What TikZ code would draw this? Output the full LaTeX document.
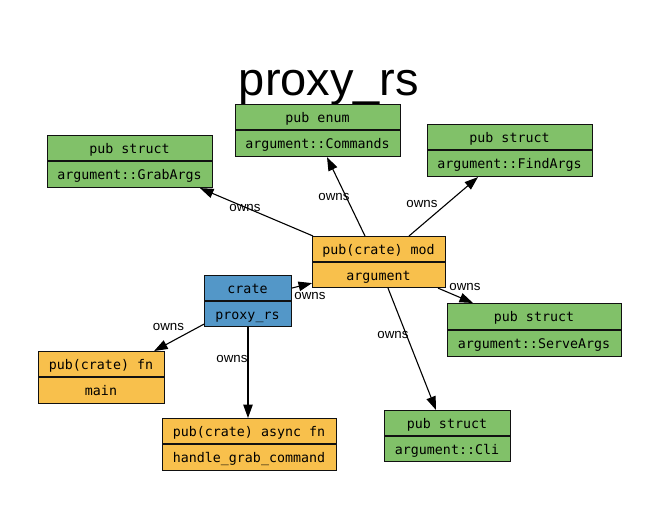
\documentclass[tikz,border=0pt]{standalone}
\usepackage{fontspec}
\setmainfont{Liberation Sans}
\newfontfamily\boxmono{DejaVu Sans Mono}
\usetikzlibrary{arrows.meta,calc}
\definecolor{pubgreen}{HTML}{81C169}
\definecolor{crateorange}{HTML}{F8C04C}
\definecolor{crateblue}{HTML}{5397C8}
\definecolor{edgegray}{HTML}{111111}
\tikzset{
  umlbox/.style={draw=edgegray, line width=1.1pt, inner sep=0pt},
  boxline/.style={draw=edgegray, line width=1.1pt},
  boxtext/.style={font=\boxmono\fontsize{13.3}{15}\selectfont, inner sep=0pt, text=black},
  ownsedge/.style={draw=black, line width=1.1pt, -{Triangle[length=13.5pt,width=9.5pt]}},
  ownslabel/.style={font=\fontsize{13.3}{15}\selectfont, inner sep=0pt, text=black},
}
\newcommand\umlbox[9]{%
  \node[umlbox, fill=#9, minimum width={(#4-#2)*1pt}, minimum height={(#5-#3)*1pt}, anchor=north west] (#1) at (#2,#3) {};
  \draw[boxline] (#2,#6) -- (#4,#6);
  \node[boxtext, anchor=base] (#1top) at ({(#2+#4)/2},{#3+18}) {#7};
  \node[boxtext, anchor=base] (#1bot) at ({(#2+#4)/2},{#6+18}) {#8};
}
\begin{document}
\begin{tikzpicture}[x=1pt,y=-1pt]
\fill[white] (0,0) rectangle (659,509);
\useasboundingbox (0,0) rectangle (659,509);
\node[font=\fontsize{47}{50}\selectfont, inner sep=0pt, anchor=base] (title) at (329,95) {proxy\_rs};
\umlbox{grab}{47}{135}{212}{187}{161}{pub struct}{argument::GrabArgs}{pubgreen}
\umlbox{cmd}{235}{104}{400}{156}{130}{pub enum}{argument::Commands}{pubgreen}
\umlbox{find}{427}{124}{592}{176}{150}{pub struct}{argument::FindArgs}{pubgreen}
\umlbox{mod}{312}{236}{445}{287}{262}{pub(crate) mod}{argument}{crateorange}
\umlbox{crate}{204}{275}{291}{326}{301}{crate}{proxy\_rs}{crateblue}
\umlbox{serve}{447}{303}{621}{356}{330}{pub struct}{argument::ServeArgs}{pubgreen}
\umlbox{cli}{384}{410}{510}{461}{436}{pub struct}{argument::Cli}{pubgreen}
\umlbox{main}{38}{351}{164}{403}{377}{pub(crate) fn}{main}{crateorange}
\umlbox{handle}{162}{418}{336}{470}{444}{pub(crate) async fn}{handle\_grab\_command}{crateorange}
% edges
\draw[ownsedge] ($(mod.north west)+(1,0)$) -- ($(grab.south west)+(153,0)$);
\draw[ownsedge] ($(mod.north west)+(53,0)$) -- ($(cmd.south west)+(92,0)$);
\draw[ownsedge] ($(mod.north west)+(97,0)$) -- ($(find.south west)+(51,0)$);
\draw[ownsedge] ($(mod.south west)+(126,0)$) -- ($(serve.north west)+(26,0)$);
\draw[ownsedge] ($(mod.south west)+(76,0)$) -- ($(cli.north west)+(52,0)$);
\draw[ownsedge] ($(crate.north east)+(0,13)$) -- ($(mod.south west)+(0,-5)$);
\draw[ownsedge] ($(crate.south west)+(0,-3)$) -- ($(main.north east)+(-11,0)$);
\draw[ownsedge] ($(crate.south west)+(44,0)$) -- ($(handle.north west)+(86,0)$);
% labels
\node[ownslabel] (l1) at (245,208) {owns};
\node[ownslabel] (l2) at (334,197) {owns};
\node[ownslabel] (l3) at (422,204) {owns};
\node[ownslabel] (l4) at (465,287) {owns};
\node[ownslabel] (l5) at (393,335) {owns};
\node[ownslabel] (l6) at (310,296) {owns};
\node[ownslabel] (l7) at (168.5,327) {owns};
\node[ownslabel] (l8) at (232,359) {owns};
\end{tikzpicture}
\end{document}
